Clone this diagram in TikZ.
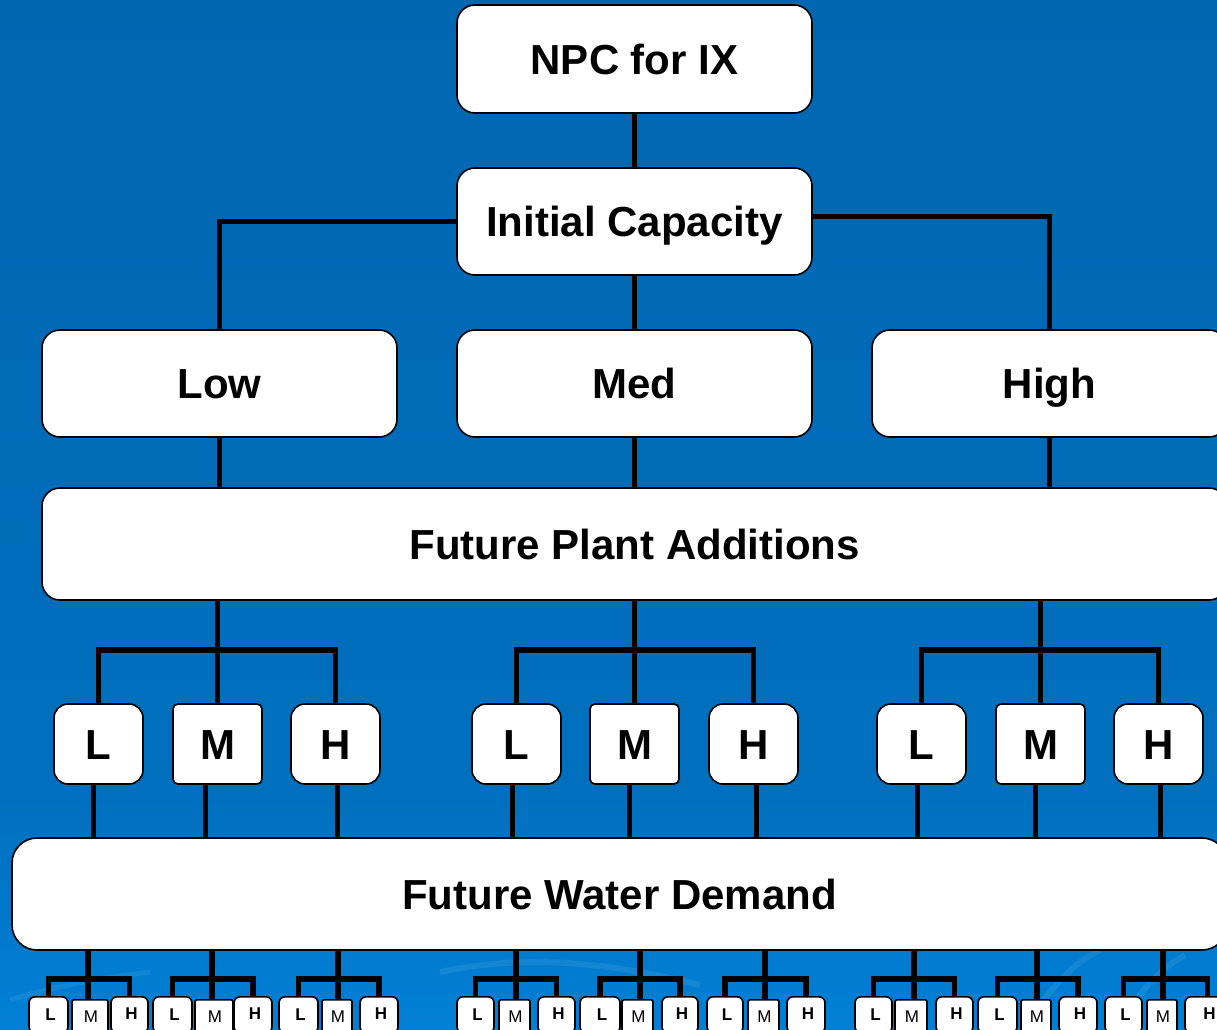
\documentclass[tikz,border=0pt]{standalone}
\usepackage{fontspec}
\setmainfont{Liberation Sans}
\usetikzlibrary{calc}
\pgfdeclarelayer{back}
\pgfdeclarelayer{lines}
\pgfsetlayers{back,lines,main}
\definecolor{bgtop}{RGB}{0,102,176}
\definecolor{bgmid}{RGB}{0,112,190}
\definecolor{bgbot}{RGB}{0,128,214}
\tikzset{
  bigbox/.style={draw=black, line width=1.6pt, fill=white, rounded corners=18pt, inner sep=0pt,
     text height=30pt, text depth=0pt,
     font=\fontsize{42}{48}\selectfont\bfseries},
  midbox/.style={draw=black, line width=1.6pt, fill=white, rounded corners=14pt, inner sep=0pt,
     minimum width=89pt, minimum height=80pt, text height=30pt, text depth=-2pt,
     font=\fontsize{42}{48}\selectfont\bfseries},
  midm/.style={midbox, rounded corners=5pt},
  smallbox/.style={draw=black, line width=1.6pt, fill=white, rounded corners=6pt, inner sep=0pt,
     minimum height=36pt, font=\fontsize{17}{20}\selectfont\bfseries},
  smallm/.style={smallbox, rounded corners=2pt, font=\fontsize{17}{20}\selectfont},
  conn/.style={line width=5.5pt, black},
}
\begin{document}
\begin{tikzpicture}[x=1pt,y=-1pt]
\useasboundingbox (0,0) rectangle (1217,1029);
\clip (0,0) rectangle (1217,1029);
\begin{pgfonlayer}{back}
  \shade[top color=bgtop, bottom color=bgmid] (0,0) rectangle (1217,800);
  \shade[top color=bgmid, bottom color=bgbot] (0,799) rectangle (1217,1029);
  \draw[white, opacity=0.08, line width=6pt] (440,972) .. controls (520,955) and (600,960) .. (700,985);
  \draw[white, opacity=0.07, line width=5pt] (10,1000) .. controls (60,985) and (100,978) .. (150,972);
  \draw[white, opacity=0.08, line width=6pt] (1030,1020) .. controls (1050,990) and (1070,965) .. (1100,950);
  \draw[white, opacity=0.08, line width=6pt] (1120,1029) .. controls (1135,1000) and (1150,975) .. (1185,955);
\end{pgfonlayer}

% top level
\node[bigbox, minimum width=355pt, minimum height=108pt] (npc) at (634.5,59) {NPC for IX};
\node[bigbox, minimum width=355pt, minimum height=107pt] (ic) at (634.5,221.5) {Initial Capacity};
\node[bigbox, minimum width=355pt, minimum height=107pt] (low) at (219.5,383.5) {Low};
\node[bigbox, minimum width=355pt, minimum height=107pt] (med) at (634.5,383.5) {Med};
\node[bigbox, minimum width=355pt, minimum height=107pt] (high) at (1049.5,383.5) {High};
\node[bigbox, minimum width=1185pt, minimum height=112pt] (fpa) at (634.5,544) {Future Plant Additions};
\node[bigbox, rounded corners=25pt, minimum width=1215pt, minimum height=112pt] (fwd) at (619.5,894) {Future Water Demand};

% middle row
\node[midbox] (aL) at (98.5,744) {L};
\node[midm]   (aM) at (217.5,744) {M};
\node[midbox] (aH) at (335.5,744) {H};
\node[midbox] (bL) at (516.5,744) {L};
\node[midm]   (bM) at (634.5,744) {M};
\node[midbox] (bH) at (753.5,744) {H};
\node[midbox] (cL) at (921.5,744) {L};
\node[midm]   (cM) at (1040.5,744) {M};
\node[midbox] (cH) at (1158.5,744) {H};

% bottom row: groups
\foreach \g/\la/\lb/\ma/\mb/\ha/\hb in {
  1/29/68/72/108/111/148,
  2/153/192/195/233/234/272,
  3/279/318/322/352/360/398,
  4/457/494/499/530/538/575,
  5/580/620/622/653/662/698,
  6/707/743/748/779/787/825,
  7/855/892/895/927/936/973,
  8/978/1017/1021/1051/1059/1097,
  9/1105/1142/1147/1177/1185/1230}{
  \node[smallbox, minimum width={\lb-\la}, anchor=north, text height=12pt, text depth=1pt] (s\g L) at ({(\la+\lb)/2},996) {\hspace*{4pt}L};
  \node[smallm, minimum width={\mb-\ma}, anchor=north, minimum height=33pt, text height=12pt, text depth=-2pt] (s\g M) at ({(\ma+\mb)/2},999) {\hspace*{2pt}M};
  \node[smallbox, minimum width={\hb-\ha}, anchor=north, text height=12pt, text depth=3pt] (s\g H) at ({(\ha+\hb)/2},996) {\hspace*{4pt}H};
}

\begin{pgfonlayer}{lines}
  \draw[conn] (npc.south) -- (ic.north);
  \draw[conn] (ic.west) -| (low.north);
  \draw[conn] ([yshift=5pt]ic.east) -| (high.north);
  \draw[conn] (ic.south) -- (med.north);
  \draw[conn] (low.south) -- (low.south |- fpa.north);
  \draw[conn] (med.south) -- (med.south |- fpa.north);
  \draw[conn] (high.south) -- (high.south |- fpa.north);
  % FPA to mid row
  \foreach \n in {a,b,c}{
    \coordinate (br\n) at (\n M.north |- 0,650);
    \draw[conn] (fpa.south -| br\n) -- (\n M.north);
    \draw[conn] (\n L.north) |- (br\n) -| (\n H.north);
  }
  % mid row to FWD
  \foreach \n/\s in {aL/-5,aM/-12,aH/2,bL/-4,bM/-5,bH/3,cL/-4,cM/-5,cH/2}{
    \draw[conn] ([xshift=\s pt]\n.south) -- ([xshift=\s pt]\n.south |- fwd.north);
  }
  % FWD to bottom row
  \foreach \g/\x in {1/88,2/212,3/338,4/516,5/640,6/765,7/914,8/1037,9/1163}{
    \coordinate (sb\g) at (\x,979);
    \draw[conn] (fwd.south -| sb\g) -- (s\g M.north -| sb\g) ;
  }
  \foreach \g in {1,...,9}{
    \draw[conn] (s\g L.north) |- (sb\g) -| (s\g H.north);
  }
\end{pgfonlayer}
\end{tikzpicture}
\end{document}
